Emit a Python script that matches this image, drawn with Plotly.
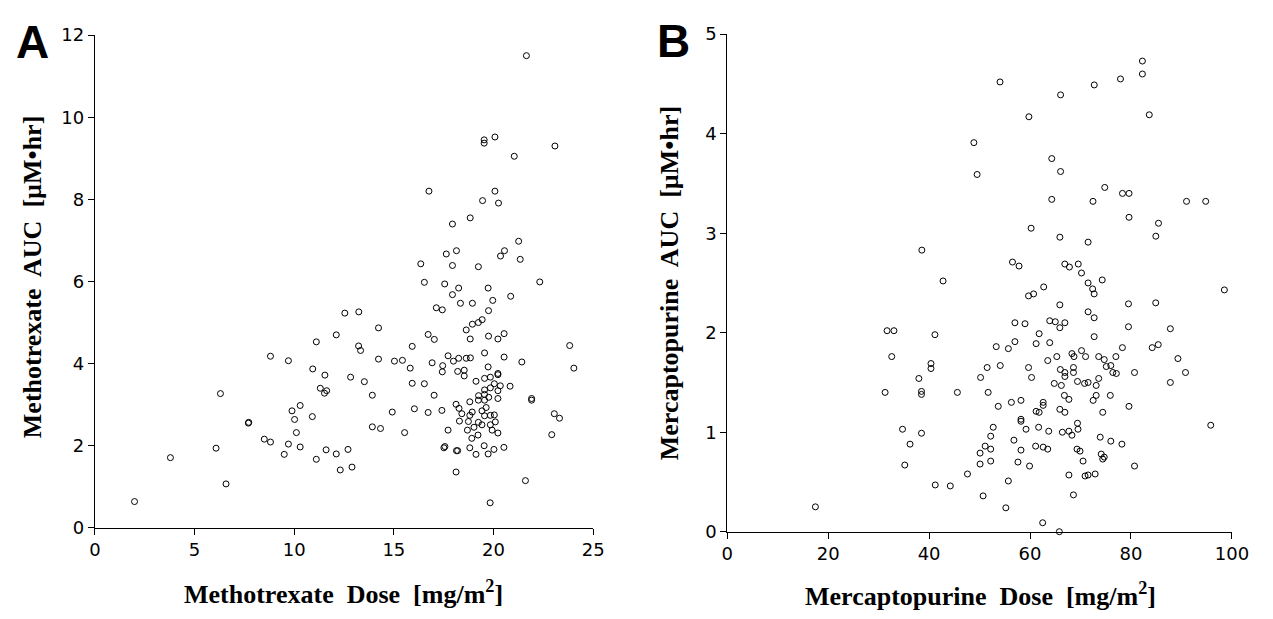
import plotly.graph_objects as go

# Panel A: methotrexate dose (mg/m2) vs AUC (uM*hr)
mtx_dose = [
    21.65, 19.53, 19.53, 20.07, 23.08, 21.04, 16.76, 20.07, 19.45, 20.25, 18.83, 17.94,
    21.26, 17.63, 18.14, 20.55, 20.35, 21.34, 16.35, 17.94, 19.24,
    1.99, 3.79, 6.58, 6.08, 6.30, 7.70, 7.72, 8.50, 8.81, 8.81, 9.71, 9.71, 9.50, 9.89,
    10.30, 10.02, 10.11, 10.30, 10.91, 10.93, 11.11, 11.11, 11.54, 11.31, 11.52, 11.63,
    11.60, 12.11, 12.11, 12.31, 12.54, 12.70, 12.83, 12.90, 13.24, 13.23, 13.33, 13.52,
    13.92, 13.92, 14.33, 14.23, 14.23, 14.92, 15.03, 15.43, 15.54, 15.82, 15.92, 15.92, 16.03,
    16.53, 17.55, 18.25, 17.94, 19.73, 22.32, 20.86, 19.96, 18.34, 18.94, 17.13, 17.43,
    19.75, 16.72, 17.03, 18.63, 18.94, 19.24, 19.43, 18.83, 19.75, 20.22, 20.53, 23.82,
    19.55, 17.72, 17.99, 18.25, 16.92, 17.45, 17.43, 18.63, 18.84, 20.53, 21.42, 19.73,
    24.03, 18.20, 18.53, 18.53, 20.22, 20.22, 19.12, 19.55, 19.84, 20.04, 20.34, 20.83,
    16.53, 19.55, 19.84, 20.22, 17.02, 19.25, 19.55, 19.24, 19.55, 19.76, 20.22, 21.91,
    21.91, 18.81, 16.72, 17.41, 18.12, 18.27, 18.41, 18.93, 18.81, 19.42, 19.63, 19.55,
    19.84, 20.04, 18.74, 19.24, 19.42, 18.29, 20.09, 19.84, 18.69, 19.02, 19.22, 18.91,
    19.93, 20.22, 17.72, 22.92, 23.05, 23.31, 17.56, 17.51, 18.14, 18.20, 18.81, 19.12,
    19.53, 19.73, 20.02, 20.52, 18.12, 21.60, 19.83,
]
mtx_auc = [
    11.50, 9.45, 9.37, 9.52, 9.30, 9.05, 8.20, 8.20, 7.97, 7.91, 7.55, 7.40,
    6.98, 6.67, 6.75, 6.75, 6.62, 6.54, 6.43, 6.39, 6.36,
    0.64, 1.71, 1.07, 1.94, 3.27, 2.55, 2.57, 2.16, 2.09, 4.18, 4.07, 2.04, 1.79, 2.85,
    2.98, 2.64, 2.32, 1.97, 2.71, 3.87, 4.53, 1.67, 3.72, 3.40, 3.28, 3.34,
    1.90, 1.80, 4.70, 1.41, 5.23, 1.91, 3.67, 1.48, 5.26, 4.43, 4.32, 3.56,
    3.23, 2.46, 2.42, 4.87, 4.11, 2.82, 4.06, 4.08, 2.32, 3.89, 4.42, 3.52, 2.90,
    5.98, 5.94, 5.84, 5.68, 5.84, 5.99, 5.64, 5.54, 5.47, 5.47, 5.36, 5.31,
    5.29, 4.71, 4.59, 4.82, 4.96, 5.00, 5.07, 4.60, 4.67, 4.60, 4.73, 4.44,
    4.26, 4.19, 4.06, 4.13, 4.02, 3.95, 3.80, 4.13, 4.14, 4.16, 4.04, 3.92,
    3.89, 3.81, 3.84, 3.70, 3.76, 3.73, 3.57, 3.64, 3.67, 3.51, 3.46, 3.45,
    3.51, 3.36, 3.41, 3.34, 3.23, 3.22, 3.25, 3.11, 3.11, 3.18, 3.15, 3.15,
    3.11, 3.07, 2.81, 2.86, 3.01, 2.91, 2.78, 2.82, 2.74, 2.85, 2.93, 2.73,
    2.74, 2.75, 2.59, 2.57, 2.51, 2.60, 2.58, 2.51, 2.38, 2.45, 2.26, 2.18,
    2.38, 2.31, 2.38, 2.27, 2.78, 2.67, 1.98, 1.95, 1.88, 1.88, 1.95, 1.79,
    2.00, 1.80, 1.91, 1.96, 1.36, 1.15, 0.61,
]

# Panel B: mercaptopurine dose (mg/m2) vs AUC (uM*hr)
mp_dose = [
    38.56,
    82.26, 82.26, 77.92, 72.72, 54.05, 66.05, 83.62, 59.77, 48.87, 64.30, 49.51, 66.05,
    74.80, 78.31, 79.61, 64.30, 72.47, 79.61, 85.45, 84.92, 60.21, 65.91, 71.50, 56.52,
    57.82, 66.89, 67.80, 69.55, 70.19,
    42.76, 31.67, 33.03, 41.15, 32.59, 40.37, 40.37, 37.97, 31.28, 38.49, 38.49, 34.73,
    38.49, 36.22, 35.18, 41.21, 44.20, 17.47,
    74.3, 71.5, 72.4, 72.7, 62.7, 59.7, 60.7, 65.9, 79.5, 84.9, 71.5, 72.7, 57.0, 59.0,
    63.9, 65.0, 66.9, 65.9, 79.5, 87.8, 61.8, 72.7, 57.0, 61.2, 63.9, 53.3, 55.7, 78.3,
    84.2, 85.4, 68.3, 70.2, 68.7, 71.0, 65.3, 73.6, 74.7, 77.0, 63.5, 51.5, 54.1, 59.7,
    75.1, 76.0, 76.4, 77.1, 89.3, 66.0, 66.9, 66.9, 68.6, 68.6, 80.7, 50.2, 60.3, 69.4,
    70.8, 71.5, 73.1, 73.6, 64.8, 66.2, 87.8, 45.6, 51.7, 66.8, 67.7, 73.1, 72.5, 75.9,
    53.7, 56.3, 58.2, 61.2, 61.8, 62.6, 62.6, 65.9, 66.9, 74.4, 79.6, 58.2, 58.2, 69.4,
    69.5, 67.7, 66.4, 68.3, 52.7, 52.2, 59.2, 61.7, 63.7, 56.8, 58.2, 51.1, 52.2, 50.1,
    61.1, 62.6, 63.5, 73.9, 76.0, 78.2, 69.3, 69.9, 70.5, 74.1, 74.4, 74.7, 50.1, 52.2,
    57.6, 59.9, 80.7, 47.6, 67.7, 70.9, 71.5, 72.9, 55.7, 50.7, 68.6, 55.2, 62.5, 65.8,
    98.5, 95.8, 91.0, 94.8, 90.8,
]
mp_auc = [
    2.83,
    4.73, 4.60, 4.55, 4.49, 4.52, 4.39, 4.19, 4.17, 3.91, 3.75, 3.59, 3.62,
    3.46, 3.40, 3.40, 3.34, 3.32, 3.16, 3.10, 2.97, 3.05, 2.96, 2.91, 2.71,
    2.67, 2.69, 2.66, 2.69, 2.60,
    2.52, 2.02, 2.02, 1.98, 1.76, 1.69, 1.64, 1.54, 1.40, 1.41, 1.38, 1.03,
    0.99, 0.88, 0.67, 0.47, 0.46, 0.25,
    2.53, 2.50, 2.44, 2.39, 2.46, 2.37, 2.39, 2.28, 2.29, 2.30, 2.21, 2.15, 2.10, 2.09,
    2.12, 2.11, 2.10, 2.05, 2.06, 2.04, 1.99, 1.96, 1.91, 1.89, 1.90, 1.86, 1.84, 1.85,
    1.85, 1.88, 1.79, 1.82, 1.76, 1.76, 1.76, 1.76, 1.73, 1.76, 1.72, 1.65, 1.67, 1.65,
    1.66, 1.67, 1.60, 1.59, 1.74, 1.63, 1.60, 1.56, 1.65, 1.60, 1.60, 1.55, 1.55, 1.51,
    1.49, 1.50, 1.47, 1.54, 1.49, 1.47, 1.50, 1.40, 1.40, 1.37, 1.33, 1.37, 1.32, 1.37,
    1.26, 1.30, 1.32, 1.21, 1.20, 1.30, 1.27, 1.23, 1.20, 1.20, 1.26, 1.13, 1.11, 1.09,
    1.03, 1.01, 1.00, 0.97, 1.05, 0.96, 1.03, 1.05, 1.01, 0.92, 0.82, 0.86, 0.83, 0.79,
    0.86, 0.85, 0.83, 0.95, 0.91, 0.88, 0.83, 0.81, 0.71, 0.78, 0.73, 0.75, 0.68, 0.71,
    0.70, 0.66, 0.66, 0.58, 0.57, 0.56, 0.57, 0.58, 0.51, 0.36, 0.37, 0.24, 0.09, 0.00,
    2.43, 1.07, 3.32, 3.32, 1.60,
]

mtx_xticks = [0, 5, 10, 15, 20, 25]
mtx_yticks = [0, 2, 4, 6, 8, 10, 12]
mp_xticks = [0, 20, 40, 60, 80, 100]
mp_yticks = [0, 1, 2, 3, 4, 5]

W, H = 1273, 619


def px_x(p):
    return p / W


def px_y(p):
    return 1 - p / H


marker = dict(symbol="circle-open", size=6, color="black", line=dict(width=1, color="black"))

fig = go.Figure()
fig.add_trace(go.Scatter(x=mtx_dose, y=mtx_auc, mode="markers", marker=marker,
                         xaxis="x", yaxis="y", cliponaxis=False, showlegend=False))
fig.add_trace(go.Scatter(x=mp_dose, y=mp_auc, mode="markers", marker=marker,
                         xaxis="x2", yaxis="y2", cliponaxis=False, showlegend=False))

tick_font = dict(family="DejaVu Sans, Arial, sans-serif", size=18, color="black")
axis_common = dict(showline=True, linecolor="black", linewidth=1, ticks="outside",
                   ticklen=6, tickcolor="black", tickwidth=1, showgrid=False,
                   zeroline=False, tickfont=tick_font, mirror=False)

fig.update_layout(
    width=W, height=H,
    margin=dict(l=0, r=0, t=0, b=0),
    paper_bgcolor="white", plot_bgcolor="white",
    xaxis=dict(domain=[px_x(90.5), px_x(598)], range=[0, 25], tickvals=mtx_xticks,
               anchor="y", **axis_common),
    yaxis=dict(domain=[px_y(535), px_y(25)], range=[0, 12], tickvals=mtx_yticks,
               anchor="x", **axis_common),
    xaxis2=dict(domain=[px_x(734.5), px_x(1248.5)], range=[0, 100], tickvals=mp_xticks,
                anchor="y2", **axis_common),
    yaxis2=dict(domain=[px_y(539), px_y(24)], range=[0, 5], tickvals=mp_yticks,
                anchor="x2", **axis_common),
)

title_font = dict(family="Liberation Serif, Times New Roman, serif", size=26, color="black")
letter_font = dict(family="Liberation Sans, Arial, sans-serif", size=46, color="black")

annotations = [
    dict(text="<b>Methotrexate  Dose  [mg/m<sup>2</sup>]</b>", x=px_x(344), y=px_y(602),
         xref="paper", yref="paper", showarrow=False, font=title_font,
         xanchor="center", yanchor="middle"),
    dict(text="<b>Mercaptopurine  Dose  [mg/m<sup>2</sup>]</b>", x=px_x(992), y=px_y(604),
         xref="paper", yref="paper", showarrow=False, font=title_font,
         xanchor="center", yanchor="middle"),
    dict(text="<b>Methotrexate  AUC  [µM•hr]</b>", x=px_x(27), y=px_y(275),
         xref="paper", yref="paper", showarrow=False, font=title_font, textangle=-90,
         xanchor="center", yanchor="middle"),
    dict(text="<b>Mercaptopurine  AUC  [µM•hr]</b>", x=px_x(676), y=px_y(282),
         xref="paper", yref="paper", showarrow=False, font=title_font, textangle=-90,
         xanchor="center", yanchor="middle"),
    dict(text="<b>A</b>", x=px_x(27), y=px_y(32), xref="paper", yref="paper",
         showarrow=False, font=letter_font, xanchor="center", yanchor="middle"),
    dict(text="<b>B</b>", x=px_x(680), y=px_y(31), xref="paper", yref="paper",
         showarrow=False, font=letter_font, xanchor="center", yanchor="middle"),
]
fig.update_layout(annotations=annotations)

fig.write_html("out.html")
